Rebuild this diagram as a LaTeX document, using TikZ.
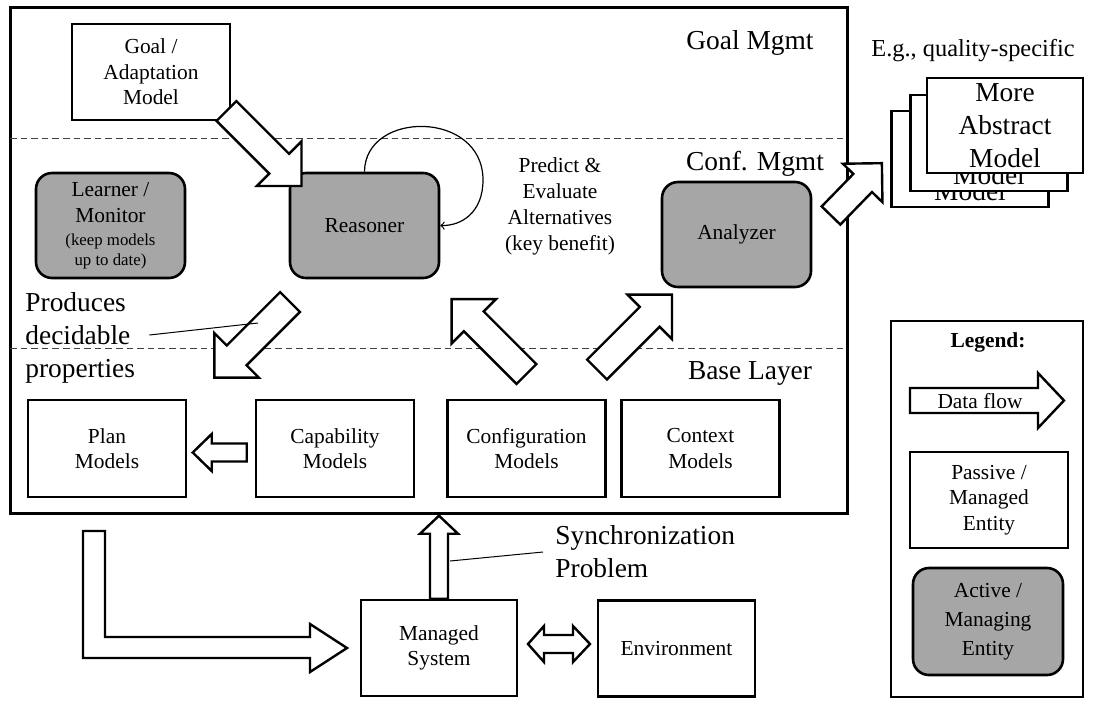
\documentclass[tikz,border=0pt]{standalone}
\usepackage{fontspec}
\setmainfont{Liberation Serif}
\usepackage{tikz}
\usetikzlibrary{arrows}
\usetikzlibrary{calc}
\definecolor{activegray}{HTML}{A6A6A6}

\newcommand{\smalltext}{\fontsize{10.7}{12.75}\selectfont}
\newcommand{\largetext}{\fontsize{13.7}{16.4}\selectfont}
\newcommand{\tinytext}{\fontsize{8.4}{10}\selectfont}

% hollow data-flow arrow: tail, angle, length, half shaft, half head, head length
\newcommand{\flowarrow}[6]{%
  \draw[flowline, shift={#1}, rotate=#2] (0,-#4) -- (#3-#6,-#4) -- (#3-#6,-#5) -- (#3,0)
    -- (#3-#6,#5) -- (#3-#6,#4) -- (0,#4) -- cycle;}

\begin{document}
\begin{tikzpicture}[x=0.5pt,y=-0.5pt,line join=miter,
    passive/.style={draw, line width=1.3pt, fill=white, align=center, font=\smalltext,
      minimum width=79pt, minimum height=48pt, inner sep=1pt},
    active/.style={passive, fill=activegray, rounded corners=8pt,
      minimum width=74.5pt, minimum height=52.5pt},
    flowline/.style={draw, line width=1.2pt, fill=white},
    layer/.style={black!75, line width=0.5pt, dash pattern=on 3.3pt off 2pt},
    note/.style={line width=0.5pt}]
\useasboundingbox (0,0) rectangle (1098,708);

% management frame and layers
\draw[line width=1.5pt] (10,7) rectangle (847,513);
\draw[layer] (10,138) -- (847,138);
\draw[layer] (10,348) -- (847,348);
\node[font=\largetext, anchor=base] (goalmgmt) at (750,49) {Goal Mgmt};
\node[font=\largetext, anchor=base] (confmgmt) at (755,170) {Conf. Mgmt};
\node[font=\largetext, anchor=base] (baselayer) at (750,379) {Base Layer};

% entities
\node[passive] (goal) at (151,72) {Goal /\\Adaptation\\Model};
\node[active] (learner) at (110.5,225.5) {Learner /\\Monitor\\[-1pt]{\tinytext (keep models}\\[-3pt]{\tinytext up to date)}};
\node[active] (reasoner) at (364.5,225.5) {Reasoner};
\node[active] (analyzer) at (736.5,234.5) {Analyzer};
\node[align=center, font=\fontsize{10.7}{13}\selectfont] (predict) at (560,206) {Predict \&\\Evaluate\\Alternatives\\(key benefit)};
\node[passive, minimum height=48.5pt] (plan) at (107,448.5) {Plan\\Models};
\node[passive, minimum height=48.5pt] (capability) at (335,448.5) {Capability\\Models};
\node[passive, minimum height=48.5pt] (configuration) at (526.5,448.5) {Configuration\\Models};
\node[passive, minimum height=48.5pt] (context) at (700.5,448.5) {Context\\Models};
\node[passive, minimum width=78pt] (managed) at (439,648) {Managed\\System};
\node[passive, minimum width=78.5pt] (environment) at (676.5,648.5) {Environment};

% stacked abstract models
\node[font=\fontsize{12.2}{14}\selectfont, anchor=base] (quality) at (973,56) {E.g., quality-specific};
\node[passive, font=\largetext, minimum width=78.5pt] (abstractc) at (970,159) {More\\Abstract\\Model};
\node[passive, font=\largetext, minimum width=78.5pt] (abstractb) at (989,143) {More\\Abstract\\Model};
\node[passive, font=\largetext, minimum width=78pt, minimum height=47.5pt] (abstracta) at (1005,125.5) {More\\Abstract\\Model};

% data flows
\draw[line width=0.6pt, -to] (reasoner.north) .. controls (365,110) and (483,110) .. (483,180)
  .. controls (483,212) and (462,226) .. (reasoner.east);
\flowarrow{(226.5,111)}{-45}{106}{14}{31.5}{31.5}
\flowarrow{(290,302)}{-135}{107}{14}{31.5}{31.5}
\flowarrow{(526.5,374)}{135}{106}{14}{31.5}{31.5}
\flowarrow{(597,369.5)}{45}{106}{14}{31.5}{31.5}
\flowarrow{(831,215.5)}{45.8}{73}{13}{27.6}{27.6}
\flowarrow{($(capability.west)+(-8,4)$)}{180}{54}{9}{18.5}{19}
\flowarrow{(managed.north)}{90}{83}{9}{19}{18}
\draw[flowline] (83,531) -- (105,531) -- (105,637) -- (310,637) -- (310,624) -- (347,648)
  -- (310,672) -- (310,658) -- (83,658) -- cycle;
\draw[flowline] (528,644) -- (544,626) -- (544,635) -- (573,635) -- (573,626) -- (590,644)
  -- (573,662) -- (573,653) -- (544,653) -- (544,662) -- cycle;

% annotations
\node[font=\largetext, align=left, anchor=west, inner sep=0pt] (produces) at (25,338) {Produces\\decidable\\properties};
\draw[note] ($(produces.east)+(14,-3)$) -- (258,323);
\node[font=\largetext, align=left, anchor=west, inner sep=0pt] (sync) at (555,552) {Synchronization\\Problem};
\draw[note] (450,561) -- ($(sync.west)+(-12,0)$);

% legend
\draw[line width=1.3pt] (891,321) rectangle (1083,697);
\node[font=\smalltext\bfseries, anchor=base] (legendtitle) at (988,347) {Legend:};
\flowarrow{(910,400.5)}{0}{154}{12.5}{27.5}{26}
\node[font=\smalltext] (dataflow) at (980,401) {Data flow};
\node[passive] (passiveleg) at (989,500) {Passive /\\Managed\\Entity};
\node[active, minimum width=75pt, minimum height=53.5pt, font=\fontsize{10.7}{14.5}\selectfont] (activeleg) at (988,621.5) {Active /\\Managing\\Entity};
\end{tikzpicture}
\end{document}
